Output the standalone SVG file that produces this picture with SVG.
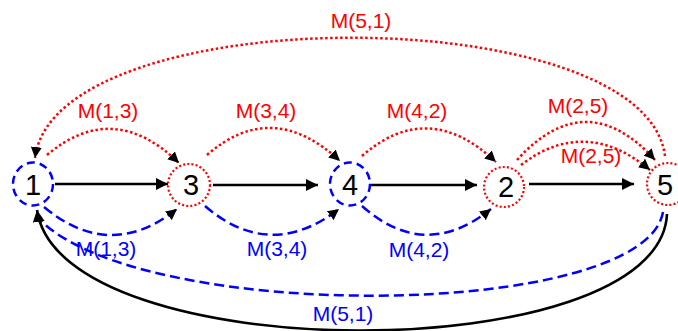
<svg xmlns="http://www.w3.org/2000/svg" width="678" height="331" viewBox="0 0 678 331">
  <style>
    .lbl { font-family: "Liberation Sans", Arial, sans-serif; font-size: 21px; text-anchor: middle; }
    .num { font-family: "Liberation Sans", Arial, sans-serif; font-size: 29px; text-anchor: middle; fill: #000; }
    .red { fill: #ff0000; }
    .blue { fill: #0000ff; }
    .dash-node { fill: none; stroke: #0000ff; stroke-width: 2.5; stroke-dasharray: 8 5; }
    .dot-node { fill: none; stroke: #ff0000; stroke-width: 2.2; stroke-dasharray: 2 2.2; }
    .solid { fill: none; stroke: #000; stroke-width: 2.6; }
    .dotted { fill: none; stroke: #ff0000; stroke-width: 2.5; stroke-dasharray: 2.5 2.5; }
    .dashed { fill: none; stroke: #0000ff; stroke-width: 2.5; stroke-dasharray: 10 5; }
  </style>
  <defs>
    <marker id="head" viewBox="0 0 12 12" markerWidth="12" markerHeight="12" refX="12" refY="6" orient="auto" markerUnits="userSpaceOnUse">
      <path d="M0,0 L12,6 L0,12 z" fill="#000"/>
    </marker>
    <marker id="head-sm" viewBox="0 0 11 11" markerWidth="11" markerHeight="11" refX="11" refY="5.5" orient="auto" markerUnits="userSpaceOnUse">
      <path d="M0,0 L11,5.5 L0,11 z" fill="#000"/>
    </marker>
  </defs>

  <!-- connectors -->
  <g id="connectors">
    <!-- chain of solid arrows -->
    <path class="solid" d="M55,184 L168,184" marker-end="url(#head)"/>
    <path class="solid" d="M213,185 L318,185" marker-end="url(#head)"/>
    <path class="solid" d="M369,185 L477,185" marker-end="url(#head)"/>
    <path class="solid" d="M529,184 L634,184" marker-end="url(#head)"/>

    <!-- red dotted arcs above -->
    <path class="dotted" d="M47,155 Q113,99 179,163" marker-end="url(#head-sm)"/>
    <path class="dotted" d="M207,155 Q272,98 340,161" marker-end="url(#head-sm)"/>
    <path class="dotted" d="M362,156 Q428,98 496,162" marker-end="url(#head-sm)"/>
    <path class="dotted" d="M517,160 Q586,84 655,160" marker-end="url(#head-sm)"/>
    <path class="dotted" d="M521,165 Q585,116 650,170" marker-end="url(#head-sm)"/>
    <path class="dotted" d="M665,156 C645,-2 55,-2 35,158" marker-end="url(#head-sm)"/>

    <!-- blue dashed arcs below -->
    <path class="dashed" d="M44,207 Q110,262 177,209" marker-end="url(#head-sm)"/>
    <path class="dashed" d="M205,206 Q270,262 339,209" marker-end="url(#head-sm)"/>
    <path class="dashed" d="M362,206 Q425,262 491,209" marker-end="url(#head-sm)"/>
    <path class="dashed" d="M663,212 C645,320 140,325 38,218"/>

    <!-- solid return arc -->
    <path class="solid" d="M667,214 C660,370 60,370 37,210" marker-end="url(#head)"/>
  </g>

  <!-- edge labels -->
  <g id="labels">
    <text class="lbl red" x="361" y="28">M(5,1)</text>
    <text class="lbl red" x="108" y="118">M(1,3)</text>
    <text class="lbl red" x="266" y="118">M(3,4)</text>
    <text class="lbl red" x="417" y="118">M(4,2)</text>
    <text class="lbl red" x="578" y="113">M(2,5)</text>
    <text class="lbl red" x="591" y="163">M(2,5)</text>
    <text class="lbl blue" x="106" y="256">M(1,3)</text>
    <text class="lbl blue" x="277" y="256">M(3,4)</text>
    <text class="lbl blue" x="419" y="257">M(4,2)</text>
    <text class="lbl blue" x="343" y="321">M(5,1)</text>
  </g>

  <!-- nodes -->
  <g id="node1">
    <ellipse class="dash-node" cx="33" cy="184" rx="20" ry="21.5"/>
    <text class="num" x="33" y="195">1</text>
  </g>
  <g id="node3">
    <circle class="dot-node" cx="189" cy="185" r="21"/>
    <text class="num" x="191" y="195">3</text>
  </g>
  <g id="node4">
    <ellipse class="dash-node" cx="350" cy="184" rx="20" ry="21.5"/>
    <text class="num" x="350" y="195">4</text>
  </g>
  <g id="node2">
    <circle class="dot-node" cx="504" cy="187" r="20"/>
    <text class="num" x="506" y="197">2</text>
  </g>
  <g id="node5">
    <circle class="dot-node" cx="668" cy="184" r="21"/>
    <text class="num" x="665" y="195">5</text>
  </g>
</svg>
